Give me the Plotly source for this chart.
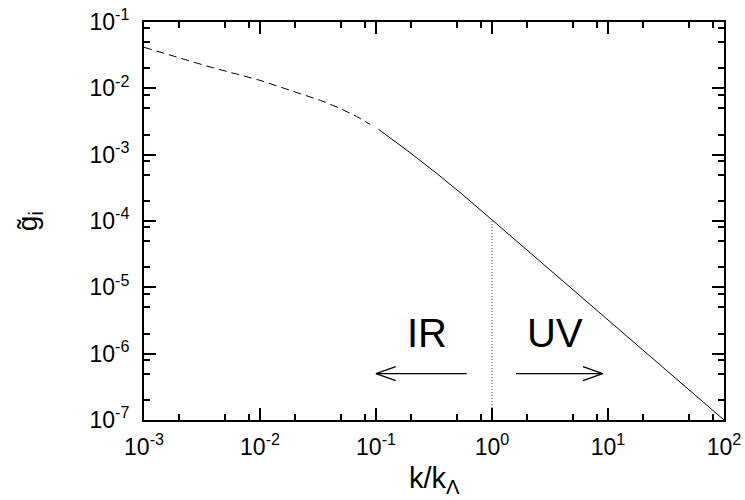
import numpy as np
import plotly.graph_objects as go

# ---- data ----
k_ir = [1.0e-3, 3.47e-3, 1.0e-2, 2.21e-2, 3.31e-2, 4.90e-2, 6.8e-2, 8.87e-2]
g_ir = [4.16e-2, 2.17e-2, 1.32e-2, 8.4e-3, 6.6e-3, 5.0e-3, 3.76e-3, 2.87e-3]

k_uv = [0.105, 0.184, 0.333, 0.55, 1.0, 3.16, 9.12, 30.0, 100.0]
g_uv = [2.41e-3, 1.17e-3, 5.24e-4, 2.55e-4, 1.04e-4, 1.84e-5, 3.76e-6, 6.3e-7, 1.0e-7]

k_sep = [1.0, 1.0]
g_sep = [1.0e-7, 1.04e-4]

x_major = [1e-3, 1e-2, 1e-1, 1e0, 1e1, 1e2]
x_major_text = ["10<sup>-3</sup>", "10<sup>-2</sup>", "10<sup>-1</sup>",
                "10<sup>0</sup>", "10<sup>1</sup>", "10<sup>2</sup>"]
y_major = [1e-7, 1e-6, 1e-5, 1e-4, 1e-3, 1e-2, 1e-1]
y_major_text = ["10<sup>-7</sup>", "10<sup>-6</sup>", "10<sup>-5</sup>",
                "10<sup>-4</sup>", "10<sup>-3</sup>", "10<sup>-2</sup>",
                "10<sup>-1</sup>"]
minor_mult = [2, 5, 8]
x_minor = [m * d for d in x_major[:-1] for m in minor_mult]
y_minor = [m * d for d in y_major[:-1] for m in minor_mult]

# arrows (data units): IR points left, UV points right
arrow_y = 5.0e-7
ir_arrow = (0.605, 0.1)   # tail, tip
uv_arrow = (1.61, 9.0)    # tail, tip
label_ir = (0.274, 2.08e-6)
label_uv = (3.49, 2.08e-6)

FONT = "Liberation Sans, Arial, Helvetica, sans-serif"

fig = go.Figure()
fig.add_trace(go.Scatter(x=k_ir, y=g_ir, mode="lines",
                         line=dict(color="black", width=1, dash="8px,5px"),
                         showlegend=False, hoverinfo="skip"))
fig.add_trace(go.Scatter(x=k_uv, y=g_uv, mode="lines",
                         line=dict(color="black", width=1),
                         showlegend=False, hoverinfo="skip"))
fig.add_trace(go.Scatter(x=k_sep, y=g_sep, mode="lines",
                         line=dict(color="#555555", width=1, dash="1px,2px"),
                         showlegend=False, hoverinfo="skip"))

# arrow glyphs built in log space
hx = 0.17   # head length (decades of x)
hy = 0.105  # head half-height (decades of y)
def arrow(tail, tip):
    lt, lp, ly = np.log10(tail), np.log10(tip), np.log10(arrow_y)
    s = 1 if lp > lt else -1
    xs = [tail, tip, None, 10 ** (lp - s * hx), tip, 10 ** (lp - s * hx)]
    ys = [arrow_y, arrow_y, None, 10 ** (ly + hy), arrow_y, 10 ** (ly - hy)]
    return xs, ys

for a in (ir_arrow, uv_arrow):
    xs, ys = arrow(*a)
    fig.add_trace(go.Scatter(x=xs, y=ys, mode="lines",
                             line=dict(color="black", width=1.3),
                             showlegend=False, hoverinfo="skip"))

for txt, (lx, ly) in (("IR", label_ir), ("UV", label_uv)):
    fig.add_annotation(x=np.log10(lx), y=np.log10(ly), xref="x", yref="y",
                       text=txt, showarrow=False,
                       font=dict(family=FONT, size=40, color="black"))

fig.add_annotation(x=0.5, y=-0.1, xref="paper", yref="paper",
                   xanchor="center", yanchor="top",
                   text="k/k<sub>Λ</sub>", showarrow=False,
                   font=dict(family=FONT, size=29, color="black"))
fig.add_annotation(x=-0.198, y=0.5, xref="paper", yref="paper",
                   xanchor="center", yanchor="middle", textangle=-90,
                   text="g\u0303<sub>i</sub>", showarrow=False,
                   font=dict(family=FONT, size=28, color="black"))

axis_common = dict(showline=True, linecolor="black", linewidth=2,
                   mirror="ticks", ticks="inside", ticklen=12, tickwidth=1.5,
                   tickcolor="black", showgrid=False, zeroline=False,
                   automargin=False,
                   tickfont=dict(family=FONT, size=23, color="black"))

fig.update_xaxes(type="log", range=[-3, 2], tickmode="array",
                 tickvals=x_major, ticktext=x_major_text,
                 minor=dict(tickmode="array", tickvals=x_minor, ticks="inside",
                            ticklen=6, tickwidth=1.5, tickcolor="black",
                            showgrid=False),
                 ticklabelstandoff=5,
                 **axis_common)
fig.update_yaxes(type="log", range=[-7, -1], tickmode="array",
                 tickvals=y_major, ticktext=y_major_text,
                 minor=dict(tickmode="array", tickvals=y_minor, ticks="inside",
                            ticklen=6, tickwidth=1.5, tickcolor="black",
                            showgrid=False),
                 ticklabelstandoff=8,
                 **axis_common)

fig.update_layout(width=745, height=500,
                  margin=dict(l=144, r=21, t=22, b=80, pad=0),
                  plot_bgcolor="white", paper_bgcolor="white",
                  font=dict(family=FONT, color="black"))

fig.write_html("out.html")
